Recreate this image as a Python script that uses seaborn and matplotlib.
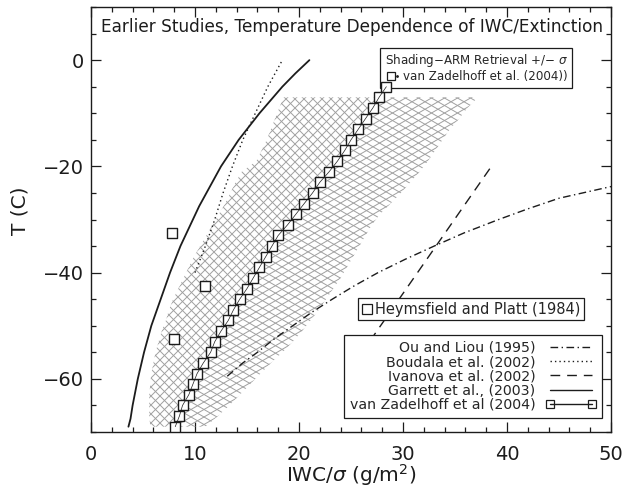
import numpy as np
import matplotlib
matplotlib.use("Agg")
import matplotlib.pyplot as plt
import seaborn as sns
from matplotlib.patches import Polygon
from matplotlib.collections import LineCollection
from matplotlib.lines import Line2D
from matplotlib.legend_handler import HandlerTuple
from matplotlib.ticker import MultipleLocator

# ---------------- data ----------------
garrett_T = [-69, -67.5, -65, -62.5, -60, -57.5, -55, -52.5, -50, -47.5, -45, -42.5, -40,
             -37.5, -35, -32.5, -30, -27.5, -25, -22.5, -20, -17.5, -15, -12.5, -10,
             -7.5, -5, -2.5, 0]
garrett_x = [3.6, 3.8, 4.0, 4.25, 4.5, 4.8, 5.1, 5.45, 5.8, 6.25, 6.7, 7.15, 7.6,
             8.1, 8.6, 9.2, 9.8, 10.4, 11.1, 11.8, 12.5, 13.35, 14.2, 15.2, 16.2,
             17.3, 18.4, 19.65, 21.0]

boudala_T = [-40, -35, -30, -25, -20, -15, -10, -5, 0]
boudala_x = [10.0, 11.0, 11.9, 12.7, 13.6, 14.6, 15.8, 17.0, 18.4]

ivanova_T = [-58.0, -20.0]
ivanova_x = [25.0, 38.5]

ou_T = [-59.5, -57, -55, -52.5, -50, -47.5, -45, -42.5, -40, -37.5, -35, -32.5, -30, -28, -26, -23.8]
ou_x = [13.1, 14.6, 16.0, 17.6, 19.4, 21.2, 23.2, 25.3, 27.6, 30.2, 33.0, 35.9, 39.2, 42.0, 45.0, 50.0]

hp_T = [-32.5, -42.5, -52.5]
hp_x = [7.8, 11.0, 8.0]

vz_T = [-69, -67, -65, -63, -61, -59, -57, -55, -53, -51, -49, -47, -45, -43, -41,
        -39, -37, -35, -33, -31, -29, -27, -25, -23, -21, -19, -17, -15, -13, -11,
        -9, -7, -5]
vz_x = [8.1, 8.5, 8.8, 9.4, 9.8, 10.2, 10.8, 11.5, 11.9, 12.5, 13.2, 13.7, 14.3, 15.0, 15.6,
        16.2, 16.8, 17.4, 18.0, 18.9, 19.7, 20.5, 21.3, 22.0, 22.9, 23.7, 24.4, 25.0, 25.7, 26.4,
        27.1, 27.7, 28.4]

# shading: ARM retrieval +/- sigma (same temperatures as vz_T, without the last point)
shade_T = vz_T[:-1]
shade_lo = [5.7, 5.6, 5.6, 5.6, 5.7, 5.8, 6.0, 6.2, 6.5, 6.8, 7.2, 7.5, 7.9, 8.4, 8.9,
            9.4, 9.9, 10.5, 11.1, 11.7, 12.3, 12.9, 13.4, 13.9, 14.5, 15.9, 16.4, 16.9, 17.3, 17.7,
            18.1, 18.5]
shade_hi = [11.0, 12.2, 13.3, 14.3, 15.3, 16.3, 17.3, 18.4, 19.4, 20.3, 21.1, 21.9, 22.6, 23.3, 24.0,
            24.6, 25.2, 25.8, 26.4, 27.0, 27.8, 28.8, 29.8, 30.7, 31.6, 32.4, 33.1, 33.8, 34.5, 35.4,
            36.2, 37.2]

x_ticks = [0, 10, 20, 30, 40, 50]
y_ticks = [0, -20, -40, -60]
y_ticklabels = ['0', '\u221220', '\u221240', '\u221260']

# ---------------- style ----------------
sns.set_style("ticks")
plt.rcParams['font.family'] = ['DejaVu Sans']
plt.rcParams['hatch.color'] = '#a0a0a0'
INK = '#1c1c1c'
HATCH = '#a0a0a0'

fig = plt.figure(figsize=(6.3, 4.9), dpi=100)
ax = fig.add_axes([91 / 630, 58 / 490, 520 / 630, 425 / 490])
ax.set_xlim(0, 50)
ax.set_ylim(-70, 10)

# ---------------- hatched shading ----------------
W_px, H_px = 520.0, 425.0


def hatch_region(xs_left, xs_right, ts, angle_deg, spacing_px):
    verts = list(zip(xs_left, ts)) + list(zip(xs_right[::-1], ts[::-1]))
    poly = Polygon(verts, closed=True, facecolor='none', edgecolor='none',
                   transform=ax.transData)
    ax.add_patch(poly)
    segs = []
    t = np.tan(np.radians(angle_deg))
    for sgn in (1, -1):
        for c in np.arange(-1200, 1800, spacing_px):
            x0, x1 = -50.0, W_px + 50.0
            y0 = sgn * t * (x0 - c)
            y1 = sgn * t * (x1 - c)
            segs.append([(x0 / W_px, y0 / H_px), (x1 / W_px, y1 / H_px)])
    lc = LineCollection(segs, colors=HATCH, linewidths=0.7, transform=ax.transAxes, zorder=1)
    lc.set_clip_path(poly)
    ax.add_collection(lc)


hatch_region(shade_lo, vz_x[:-1], shade_T, 45, 9.0)
hatch_region(vz_x[:-1], shade_hi, shade_T, 30, 13.0)

# ---------------- curves ----------------
sns.lineplot(x=ou_x, y=ou_T, sort=False, estimator=None, color=INK, lw=1.0,
             linestyle=(0, (5.5, 2.5, 1, 2.5)), ax=ax, zorder=3)
sns.lineplot(x=boudala_x, y=boudala_T, sort=False, estimator=None, color=INK, lw=1.0,
             linestyle=(0, (1, 2.2)), ax=ax, zorder=3)
sns.lineplot(x=ivanova_x, y=ivanova_T, sort=False, estimator=None, color=INK, lw=1.0,
             linestyle=(0, (7, 5)), ax=ax, zorder=3)
sns.lineplot(x=garrett_x, y=garrett_T, sort=False, estimator=None, color=INK, lw=1.3,
             ax=ax, zorder=3)

# van Zadelhoff: squares with line drawn through them
sns.lineplot(x=vz_x, y=vz_T, sort=False, estimator=None, color=INK, lw=0,
             marker='s', markersize=6.8, markerfacecolor='white', markeredgecolor=INK,
             markeredgewidth=1.0, ax=ax, zorder=6)
sns.lineplot(x=vz_x, y=vz_T, sort=False, estimator=None, color=INK, lw=0.5,
             ax=ax, zorder=7)

# Heymsfield and Platt squares
sns.scatterplot(x=hp_x, y=hp_T, marker='s', s=52, facecolor='white', edgecolor=INK,
                linewidth=1.0, ax=ax, zorder=4)

# ---------------- axes ----------------
ax.xaxis.set_minor_locator(MultipleLocator(2))
ax.yaxis.set_minor_locator(MultipleLocator(5))
ax.set_xticks(x_ticks)
ax.set_xticklabels([str(v) for v in x_ticks])
ax.set_yticks(y_ticks)
ax.set_yticklabels(y_ticklabels)
ax.tick_params(which='both', direction='in', top=True, right=True, colors=INK,
               labelcolor=INK, labelsize=14, width=0.9)
ax.tick_params(which='major', length=7)
ax.tick_params(which='minor', length=3.5)
ax.tick_params(axis='y', which='major', pad=5)
ax.tick_params(axis='x', which='major', pad=9)
for sp in ax.spines.values():
    sp.set_color(INK)
    sp.set_linewidth(1.0)
    sp.set_visible(True)

ax.set_xlabel(r'IWC/$\sigma$ (g/m$^2$)', fontsize=14.5, color=INK, labelpad=-1)
ax.set_ylabel('T (C)', fontsize=14.5, color=INK)
ax.yaxis.set_label_coords(-0.118, 0.52)

ax.text(0.02, 0.953, 'Earlier Studies, Temperature Dependence of IWC/Extinction',
        transform=ax.transAxes, fontsize=12.2, color=INK, ha='left', va='center')

# ---------------- legends ----------------
sq_open = Line2D([], [], ls='none', marker='s', markersize=6, markerfacecolor='white',
                 markeredgecolor=INK, markeredgewidth=0.9)
sq_dot = Line2D([], [], ls='none', marker='.', markersize=2, color=INK)
leg1 = ax.legend(handles=[(sq_open, sq_dot)], labels=['van Zadelhoff et al. (2004))'],
                 handler_map={tuple: HandlerTuple(ndivide=None)},
                 title='Shading\u2212ARM Retrieval +/\u2212 $\\sigma$', alignment='right',
                 loc='upper right', bbox_to_anchor=(0.925, 0.9035), borderaxespad=0,
                 fontsize=8.6, title_fontsize=8.6, handlelength=0.7, handletextpad=0.4,
                 borderpad=0.35, labelspacing=0.1, frameon=True, fancybox=False,
                 framealpha=1, edgecolor=INK)
leg1.get_frame().set_linewidth(0.9)
leg1.set_zorder(5)
ax.add_artist(leg1)

leg2 = ax.legend(handles=[Line2D([], [], ls='none', marker='s', markersize=6.5,
                                 markerfacecolor='white', markeredgecolor=INK,
                                 markeredgewidth=0.9)],
                 labels=['Heymsfield and Platt (1984)'],
                 loc='upper right', bbox_to_anchor=(0.948, 0.315), borderaxespad=0,
                 fontsize=10.5, handlelength=0.7, handletextpad=0.2, borderpad=0.25,
                 frameon=True, fancybox=False, framealpha=1, edgecolor=INK)
leg2.get_frame().set_linewidth(0.9)
ax.add_artist(leg2)

h_ou = Line2D([], [], color=INK, lw=1.0, linestyle=(0, (5.5, 2.5, 1, 2.5)))
h_bo = Line2D([], [], color=INK, lw=1.0, linestyle=(0, (1, 2.2)))
h_iv = Line2D([], [], color=INK, lw=1.0, linestyle=(0, (7, 5)))
h_ga = Line2D([], [], color=INK, lw=1.0)
h_vz = Line2D([], [], color=INK, lw=1.0, marker='s', markersize=6,
              markerfacecolor='none', markeredgecolor=INK, markeredgewidth=0.9)
leg3 = ax.legend(handles=[h_ou, h_bo, h_iv, h_ga, h_vz],
                 labels=['Ou and Liou (1995)', 'Boudala et al. (2002)', 'Ivanova et al. (2002)',
                         'Garrett et al., (2003)', 'van Zadelhoff et al (2004)'],
                 loc='upper right', bbox_to_anchor=(0.983, 0.228), borderaxespad=0,
                 markerfirst=False, numpoints=2, fontsize=10.2, handlelength=3.6,
                 handletextpad=0.7, borderpad=0.4, labelspacing=0.02,
                 frameon=True, fancybox=False, framealpha=1, edgecolor=INK)
leg3.get_frame().set_linewidth(0.9)

fig.savefig('out.png', dpi=100)
